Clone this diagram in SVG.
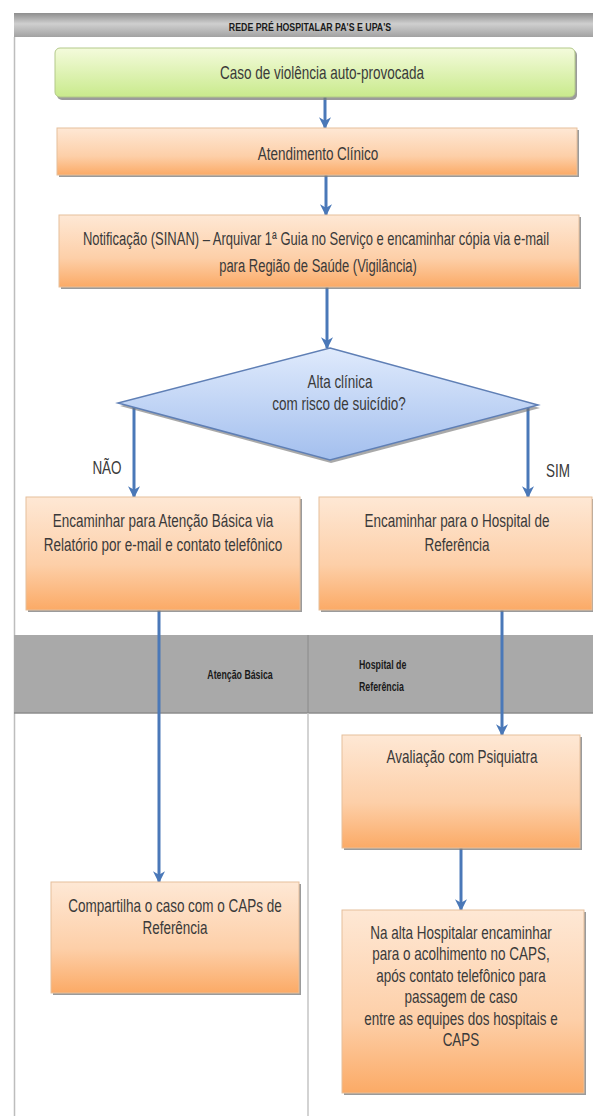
<svg xmlns="http://www.w3.org/2000/svg" width="593" height="1116" viewBox="0 0 593 1116">
<defs>
<linearGradient id="gHead" x1="0" y1="0" x2="0" y2="1">
<stop offset="0" stop-color="#8e8e8e"/><stop offset="0.45" stop-color="#cfcfcf"/><stop offset="1" stop-color="#a2a2a2"/>
</linearGradient>
<linearGradient id="gGreen" x1="0" y1="0" x2="0" y2="1">
<stop offset="0" stop-color="#f4fbdc"/><stop offset="1" stop-color="#c9ea8c"/>
</linearGradient>
<linearGradient id="gOrange" x1="0" y1="0" x2="0" y2="1">
<stop offset="0" stop-color="#fee8d5"/><stop offset="0.6" stop-color="#fdcfa8"/><stop offset="1" stop-color="#fbaa66"/>
</linearGradient>
<linearGradient id="gBlue" x1="0" y1="0" x2="0" y2="1">
<stop offset="0" stop-color="#dfeafc"/><stop offset="1" stop-color="#a3bfee"/>
</linearGradient>
<marker id="arr" viewBox="0 0 10 10" refX="9" refY="5" markerWidth="4" markerHeight="4" orient="auto" markerUnits="strokeWidth">
<path d="M0,0 L10,5 L0,10 L3,5 z" fill="#4a78b8"/>
</marker>
</defs>
<style>
.t{font-family:"Liberation Sans",Arial,sans-serif;font-size:13.5px;fill:#3a3a3a;text-anchor:middle}
.b{font-family:"Liberation Sans",Arial,sans-serif;font-weight:bold;font-size:8.8px;fill:#1a1a1a}
.box{fill:url(#gOrange);stroke:#e5bf9c;stroke-width:1}
.sh{fill:#7a7a7a;opacity:0.75}
.c{fill:none;stroke:#4a78b8;stroke-width:3;marker-end:url(#arr)}
</style>
<rect x="0" y="0" width="593" height="1116" fill="#ffffff"/>
<g id="frame">
<line x1="14.5" y1="37" x2="14.5" y2="1116" stroke="#bdbdbd" stroke-width="1.5"/>
<rect x="14" y="13" width="579" height="24" fill="url(#gHead)"/>
<text class="b" text-anchor="middle" transform="translate(310 31) scale(1 1.3)">REDE PRÉ HOSPITALAR PA'S E UPA'S</text>
<rect x="14" y="635" width="579" height="78" fill="#a9a9a9"/>
<line x1="14" y1="713" x2="593" y2="713" stroke="#8c8c8c" stroke-width="1.5"/>
<line x1="308" y1="635" x2="308" y2="713" stroke="#8a8a8a" stroke-width="1"/>
<line x1="308" y1="713" x2="308" y2="1116" stroke="#c4c4c4" stroke-width="1.5"/>
<text class="b" text-anchor="middle" transform="translate(240 679) scale(1 1.4)">Atenção Básica</text>
<text class="b" transform="translate(359 669) scale(1 1.4)">Hospital de</text>
<text class="b" transform="translate(359 691) scale(1 1.4)">Referência</text>
</g>
<g id="connectors">
<line class="c" x1="325" y1="97" x2="325" y2="128"/>
<line class="c" x1="326" y1="175" x2="326" y2="215"/>
<line class="c" x1="327" y1="287" x2="327" y2="348"/>
<line class="c" x1="134" y1="406" x2="134" y2="497"/>
<line class="c" x1="528" y1="406" x2="528" y2="497"/>
<line class="c" x1="159" y1="610" x2="159" y2="882"/>
<line class="c" x1="502" y1="610" x2="502" y2="735"/>
<line class="c" x1="461" y1="848" x2="461" y2="910"/>
<text class="t" transform="translate(107 474) scale(1 1.3)">NÃO</text>
<text class="t" transform="translate(558 477) scale(1 1.3)">SIM</text>
</g>
<g id="n-caso">
<rect class="sh" x="57" y="50" width="520" height="50" rx="5"/>
<rect x="55" y="48" width="520" height="49" rx="5" fill="url(#gGreen)" stroke="#b3c98a" stroke-width="1"/>
<text class="t" transform="translate(322 79) scale(1 1.35)">Caso de violência auto-provocada</text>
</g>
<g id="n-atendimento">
<rect class="sh" x="59" y="130" width="520" height="47"/>
<rect class="box" x="57" y="128" width="520" height="47"/>
<text class="t" transform="translate(318 160) scale(1 1.35)">Atendimento Clínico</text>
</g>
<g id="n-notificacao">
<rect class="sh" x="61" y="217" width="520" height="72"/>
<rect class="box" x="59" y="215" width="520" height="72"/>
<text class="t" style="font-size:13px" transform="translate(316 245) scale(1 1.38)">Notificação (SINAN) – Arquivar 1ª Guia no Serviço e encaminhar cópia via e-mail</text>
<text class="t" style="font-size:13px" transform="translate(318 272) scale(1 1.38)">para Região de Saúde (Vigilância)</text>
</g>
<g id="n-decisao">
<polygon points="329,351 540,408 331,463 120,406" fill="#6f6f6f" opacity="0.6"/>
<polygon points="330,348 538,405 330,460 118,403" fill="url(#gBlue)" stroke="#5f7fb5" stroke-width="1.5"/>
<text class="t" transform="translate(340 388) scale(1 1.35)">Alta clínica</text>
<text class="t" transform="translate(339 410) scale(1 1.35)">com risco de suicídio?</text>
</g>
<g id="n-atencao-basica">
<rect class="sh" x="28" y="499" width="274" height="113"/>
<rect class="box" x="26" y="497" width="274" height="113"/>
<text class="t" transform="translate(163 527) scale(1 1.35)">Encaminhar para Atenção Básica via</text>
<text class="t" transform="translate(163 551) scale(1 1.35)">Relatório por e-mail e contato telefônico</text>
</g>
<g id="n-hospital">
<rect class="sh" x="321" y="499" width="273" height="113"/>
<rect class="box" x="319" y="497" width="273" height="113"/>
<text class="t" transform="translate(457 527) scale(1 1.35)">Encaminhar para o Hospital de</text>
<text class="t" transform="translate(457 551) scale(1 1.35)">Referência</text>
</g>
<g id="n-avaliacao">
<rect class="sh" x="344" y="737" width="238" height="113"/>
<rect class="box" x="342" y="735" width="238" height="113"/>
<text class="t" transform="translate(462 763) scale(1 1.35)">Avaliação com Psiquiatra</text>
</g>
<g id="n-compartilha">
<rect class="sh" x="53" y="884" width="248" height="111"/>
<rect class="box" x="51" y="882" width="248" height="111"/>
<text class="t" transform="translate(175 912) scale(1 1.35)">Compartilha o caso com o CAPs de</text>
<text class="t" transform="translate(175 934) scale(1 1.35)">Referência</text>
</g>
<g id="n-alta">
<rect class="sh" x="344" y="912" width="242" height="183"/>
<rect class="box" x="342" y="910" width="242" height="183"/>
<text class="t" transform="translate(461 939) scale(1 1.35)">Na alta Hospitalar encaminhar</text>
<text class="t" transform="translate(461 960) scale(1 1.35)">para o acolhimento no CAPS,</text>
<text class="t" transform="translate(461 982) scale(1 1.35)">após contato telefônico para</text>
<text class="t" transform="translate(461 1003) scale(1 1.35)">passagem de caso</text>
<text class="t" transform="translate(461 1025) scale(1 1.35)">entre as equipes dos hospitais e</text>
<text class="t" transform="translate(461 1046) scale(1 1.35)">CAPS</text>
</g>
</svg>
